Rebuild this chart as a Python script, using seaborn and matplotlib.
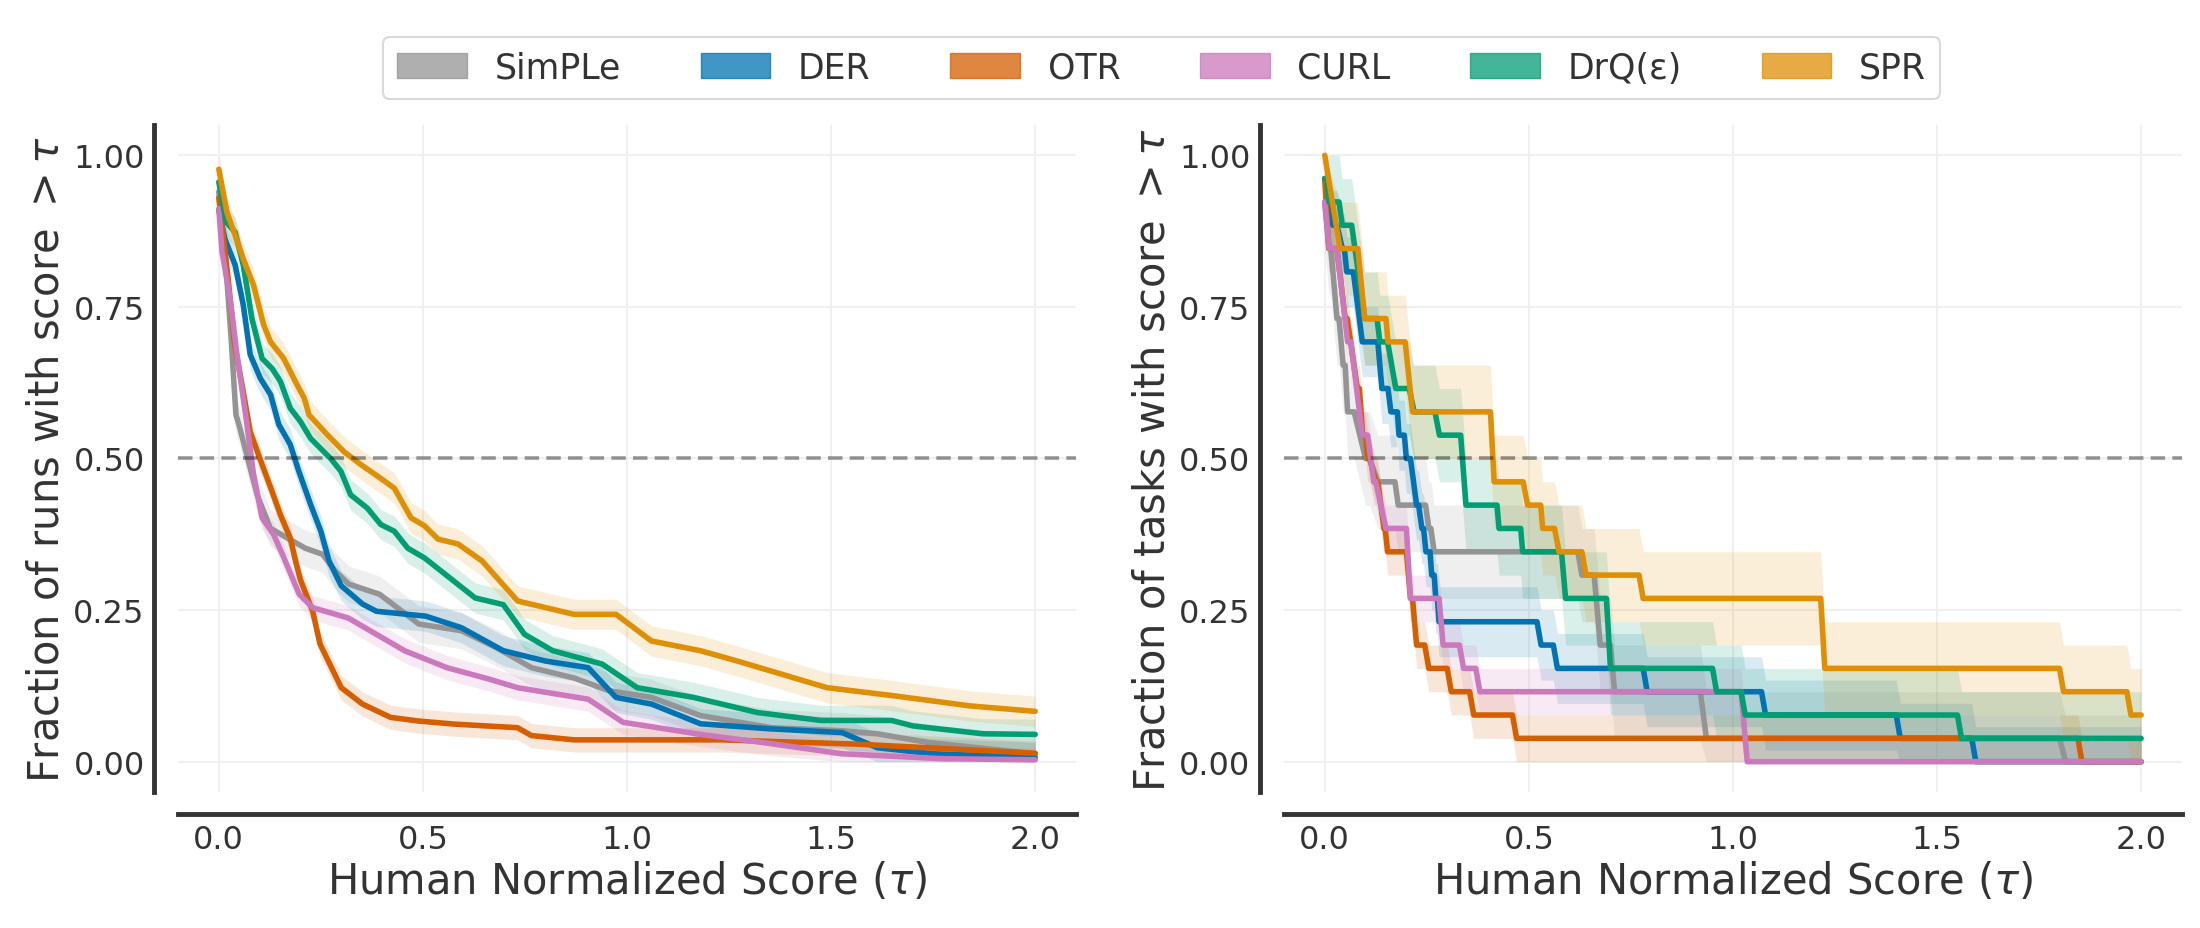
import numpy as np
import pandas as pd
import matplotlib
matplotlib.use('Agg')
import matplotlib.pyplot as plt
import seaborn as sns
from matplotlib.patches import Patch

methods = ['SimPLe', 'DER', 'OTR', 'CURL', 'DrQ(ε)', 'SPR']
colors = ['#949494', '#0173b2', '#d55e00', '#cc78bc', '#029e73', '#de8f05']

# ---------------- Left panel: fraction of runs with score > tau ----------------
simple_run_tau = [0.0, 0.015, 0.03, 0.042, 0.052, 0.094, 0.126, 0.17, 0.212, 0.254, 0.286, 0.318,
                  0.394, 0.49, 0.594, 0.68, 0.766, 0.87, 0.956, 1.06, 1.18, 1.354, 1.527, 1.613, 1.734, 2.0]
simple_run_frac = [0.94, 0.84, 0.70, 0.572, 0.549, 0.44, 0.385, 0.368, 0.352, 0.342, 0.314, 0.293,
                   0.276, 0.227, 0.216, 0.188, 0.155, 0.138, 0.117, 0.106, 0.076, 0.056, 0.051, 0.046, 0.032, 0.013]

der_run_tau = [0.0, 0.015, 0.04, 0.06, 0.077, 0.102, 0.127, 0.147, 0.175, 0.196, 0.225, 0.25, 0.27,
               0.30, 0.352, 0.386, 0.507, 0.594, 0.697, 0.8, 0.905, 0.973, 1.06, 1.18, 1.354, 1.527,
               1.613, 1.75, 2.0]
der_run_frac = [0.91, 0.862, 0.819, 0.753, 0.671, 0.632, 0.605, 0.556, 0.523, 0.479, 0.424, 0.38, 0.331,
                0.29, 0.26, 0.248, 0.24, 0.221, 0.183, 0.166, 0.155, 0.106, 0.095, 0.0625, 0.054, 0.048,
                0.023, 0.013, 0.007]

otr_run_tau = [0.0, 0.006, 0.023, 0.039, 0.06, 0.077, 0.106, 0.127, 0.151, 0.175, 0.188, 0.2, 0.23,
               0.248, 0.3, 0.352, 0.421, 0.49, 0.576, 0.732, 0.766, 0.87, 1.23, 1.56, 2.0]
otr_run_frac = [0.93, 0.895, 0.796, 0.687, 0.61, 0.544, 0.49, 0.452, 0.407, 0.369, 0.331, 0.30, 0.248,
                0.194, 0.122, 0.095, 0.073, 0.067, 0.062, 0.056, 0.043, 0.036, 0.036, 0.029, 0.014]

curl_run_tau = [0.0, 0.008, 0.028, 0.044, 0.069, 0.085, 0.106, 0.134, 0.159, 0.197, 0.23, 0.317, 0.386,
                0.455, 0.559, 0.663, 0.732, 0.905, 0.99, 1.18, 1.35, 1.527, 1.77, 2.0]
curl_run_frac = [0.912, 0.84, 0.763, 0.674, 0.556, 0.474, 0.402, 0.375, 0.337, 0.276, 0.254, 0.237, 0.21,
                 0.183, 0.155, 0.136, 0.122, 0.103, 0.065, 0.045, 0.03, 0.013, 0.005, 0.003]

drq_run_tau = [0.0, 0.018, 0.04, 0.06, 0.081, 0.106, 0.131, 0.151, 0.175, 0.2, 0.225, 0.274, 0.299,
               0.323, 0.364, 0.397, 0.43, 0.463, 0.504, 0.628, 0.697, 0.749, 0.818, 0.939, 1.025,
               1.163, 1.32, 1.475, 1.648, 1.70, 1.872, 2.0]
drq_run_frac = [0.956, 0.89, 0.873, 0.819, 0.731, 0.665, 0.648, 0.627, 0.583, 0.561, 0.533, 0.5, 0.479,
                0.44, 0.418, 0.391, 0.38, 0.352, 0.336, 0.27, 0.259, 0.21, 0.183, 0.161, 0.122,
                0.106, 0.081, 0.068, 0.068, 0.059, 0.046, 0.045]

spr_run_tau = [0.0, 0.02, 0.04, 0.06, 0.085, 0.11, 0.127, 0.159, 0.192, 0.209, 0.221, 0.266, 0.307,
               0.348, 0.397, 0.43, 0.471, 0.504, 0.537, 0.586, 0.645, 0.732, 0.87, 0.973, 1.06, 1.18,
               1.27, 1.35, 1.49, 1.65, 1.84, 2.0]
spr_run_frac = [0.977, 0.906, 0.868, 0.829, 0.786, 0.72, 0.692, 0.665, 0.621, 0.60, 0.572, 0.539, 0.511,
                0.49, 0.467, 0.451, 0.402, 0.389, 0.367, 0.359, 0.331, 0.265, 0.243, 0.243, 0.199, 0.183,
                0.166, 0.15, 0.122, 0.109, 0.092, 0.083]

# half-width of the shaded interval (fraction of runs), per method
run_ci = [0.03, 0.025, 0.02, 0.02, 0.025, 0.025]

# ---------------- Right panel: fraction of tasks (26 tasks) with score > tau ----------------
n_tasks = 26
simple_task_start = [0.0, 0.01, 0.03, 0.045, 0.056, 0.10, 0.13, 0.18, 0.255, 0.268, 0.63, 0.675, 0.71, 0.935, 1.815]
simple_task_end   = [0.0, 0.015, 0.035, 0.05, 0.072, 0.11, 0.172, 0.247, 0.26, 0.62, 0.66, 0.70, 0.92, 1.80, 2.0]
simple_task_count = [24, 22, 19, 17, 15, 13, 12, 11, 10, 9, 8, 5, 3, 1, 0]

der_task_start = [0.0, 0.02, 0.043, 0.054, 0.092, 0.14, 0.162, 0.182, 0.2, 0.225, 0.238, 0.248, 0.262,
                  0.272, 0.28, 0.53, 0.57, 0.79, 1.08, 1.41, 1.595]
der_task_end   = [0.0, 0.03, 0.048, 0.07, 0.13, 0.155, 0.178, 0.195, 0.21, 0.23, 0.242, 0.258, 0.268,
                  0.276, 0.52, 0.56, 0.78, 1.07, 1.40, 1.585, 2.0]
der_task_count = [25, 23, 22, 21, 18, 16, 15, 14, 13, 11, 10, 9, 8, 7, 6, 5, 4, 3, 2, 1, 0]

otr_task_start = [0.0, 0.01, 0.05, 0.08, 0.093, 0.105, 0.125, 0.145, 0.154, 0.21, 0.225, 0.255, 0.31, 0.365, 0.47, 1.855]
otr_task_end   = [0.0, 0.03, 0.055, 0.085, 0.10, 0.11, 0.13, 0.148, 0.20, 0.215, 0.245, 0.30, 0.355, 0.46, 1.845, 2.0]
otr_task_count = [25, 22, 19, 16, 14, 13, 12, 10, 9, 7, 5, 4, 3, 2, 1, 0]

curl_task_start = [0.0, 0.011, 0.056, 0.092, 0.12, 0.15, 0.21, 0.29, 0.34, 0.38, 1.035]
curl_task_end   = [0.0, 0.03, 0.064, 0.105, 0.125, 0.20, 0.28, 0.33, 0.37, 1.02, 2.0]
curl_task_count = [24, 22, 18, 14, 12, 10, 7, 5, 4, 3, 0]

drq_task_start = [0.0, 0.01, 0.043, 0.098, 0.135, 0.174, 0.219, 0.281, 0.346, 0.427, 0.485, 0.59, 0.70, 0.96, 1.03, 1.56]
drq_task_end   = [0.005, 0.035, 0.066, 0.128, 0.154, 0.207, 0.27, 0.333, 0.422, 0.48, 0.58, 0.69, 0.95, 1.02, 1.55, 2.0]
drq_task_count = [25, 24, 23, 19, 18, 16, 15, 14, 11, 10, 9, 7, 4, 3, 2, 1]

spr_task_start = [0.0, 0.0375, 0.098, 0.155, 0.215, 0.415, 0.497, 0.534, 0.574, 0.64, 0.78, 1.225, 1.81, 1.975]
spr_task_end   = [0.0, 0.081, 0.150, 0.197, 0.406, 0.486, 0.529, 0.563, 0.63, 0.77, 1.215, 1.80, 1.965, 2.0]
spr_task_count = [26, 22, 19, 18, 15, 12, 11, 10, 9, 8, 7, 4, 3, 2]

# half-width of the shaded interval, in tasks
task_ci = [2, 1.5, 1, 1, 2, 2]

run_tau = [simple_run_tau, der_run_tau, otr_run_tau, curl_run_tau, drq_run_tau, spr_run_tau]
run_frac = [simple_run_frac, der_run_frac, otr_run_frac, curl_run_frac, drq_run_frac, spr_run_frac]
task_start = [simple_task_start, der_task_start, otr_task_start, curl_task_start, drq_task_start, spr_task_start]
task_end = [simple_task_end, der_task_end, otr_task_end, curl_task_end, drq_task_end, spr_task_end]
task_count = [simple_task_count, der_task_count, otr_task_count, curl_task_count, drq_task_count, spr_task_count]

# ---------------- Build tables ----------------
rows_runs = []
for m, ts, fs in zip(methods, run_tau, run_frac):
    for t, f in zip(ts, fs):
        rows_runs.append({'method': m, 'tau': t, 'frac': f})
df_runs = pd.DataFrame(rows_runs)

rows_tasks = []
for m, ss, es, cs in zip(methods, task_start, task_end, task_count):
    for s, e, c in zip(ss, es, cs):
        rows_tasks.append({'method': m, 'tau': s, 'count': c})
        rows_tasks.append({'method': m, 'tau': e, 'count': c})
df_tasks = pd.DataFrame(rows_tasks)
df_tasks['frac'] = df_tasks['count'] / n_tasks

# ---------------- Style ----------------
sns.set_style('white')
plt.rcParams['font.family'] = ['DejaVu Sans']
plt.rcParams['mathtext.fontset'] = 'dejavusans'
text_color = '#333333'
TICK_FS = 23
LABEL_FS = 30
LEGEND_FS = 25

fig = plt.figure(figsize=(22, 9.29), dpi=100)
ax_l = fig.add_axes([0.0809, 0.1464, 0.4082, 0.718])
ax_r = fig.add_axes([0.5836, 0.1464, 0.4082, 0.718])

palette = dict(zip(methods, colors))

# left
for m, c, ci in zip(methods, colors, run_ci):
    sub = df_runs[df_runs['method'] == m]
    lo = np.clip(sub['frac'].values - ci, 0, 1)
    hi = np.clip(sub['frac'].values + ci, 0, 1)
    ax_l.fill_between(sub['tau'].values, lo, hi, color=c, alpha=0.15, linewidth=0)
sns.lineplot(data=df_runs, x='tau', y='frac', hue='method', hue_order=methods, palette=palette,
             estimator=None, sort=False, errorbar=None, linewidth=4.0, legend=False, ax=ax_l)

# right
for m, c, ci in zip(methods, colors, task_ci):
    sub = df_tasks[df_tasks['method'] == m]
    lo = np.clip(sub['count'].values - ci, 0, n_tasks) / n_tasks
    hi = np.clip(sub['count'].values + ci, 0, n_tasks) / n_tasks
    ax_r.fill_between(sub['tau'].values, lo, hi, color=c, alpha=0.15, linewidth=0)
sns.lineplot(data=df_tasks, x='tau', y='frac', hue='method', hue_order=methods, palette=palette,
             estimator=None, sort=False, errorbar=None, linewidth=4.0, legend=False, ax=ax_r)

ylabels = [r'Fraction of runs with score $>\tau$', r'Fraction of tasks with score $>\tau$']
for ax, yl in zip([ax_l, ax_r], ylabels):
    ax.axhline(0.5, color='black', alpha=0.4, linestyle=(0, (4, 2)), linewidth=2.6, zorder=5)
    ax.set_xlim(-0.1, 2.1)
    ax.set_ylim(-0.05, 1.05)
    ax.set_xticks([0.0, 0.5, 1.0, 1.5, 2.0])
    ax.set_yticks([0.0, 0.25, 0.5, 0.75, 1.0])
    ax.set_xticklabels(['0.0', '0.5', '1.0', '1.5', '2.0'])
    ax.set_yticklabels(['0.00', '0.25', '0.50', '0.75', '1.00'])
    ax.grid(True, color='#f0f0f0', linewidth=1.5)
    ax.set_axisbelow(True)
    for s in ['top', 'right']:
        ax.spines[s].set_visible(False)
    ax.spines['left'].set_position(('outward', 17))
    ax.spines['bottom'].set_position(('outward', 16))
    for s in ['left', 'bottom']:
        ax.spines[s].set_color(text_color)
        ax.spines[s].set_linewidth(3.5)
    ax.tick_params(axis='both', length=0, labelsize=TICK_FS, colors=text_color, pad=7)
    ax.set_xlabel(r'Human Normalized Score ($\tau$)', fontsize=LABEL_FS, color=text_color)
    ax.set_ylabel(yl, fontsize=LABEL_FS, color=text_color)

handles = [Patch(facecolor=c, edgecolor=c, alpha=0.75, label=m) for m, c in zip(methods, colors)]
leg = fig.legend(handles=handles, loc='upper center', bbox_to_anchor=(0.528, 0.978), ncol=6,
                 fontsize=LEGEND_FS, frameon=True, fancybox=True, columnspacing=2.3,
                 handlelength=2.0, handletextpad=0.8, borderpad=0.4)
leg.get_frame().set_edgecolor('#d0d0d0')
leg.get_frame().set_linewidth(1.5)
for t in leg.get_texts():
    t.set_color(text_color)

fig.savefig('out.png', dpi=100)
